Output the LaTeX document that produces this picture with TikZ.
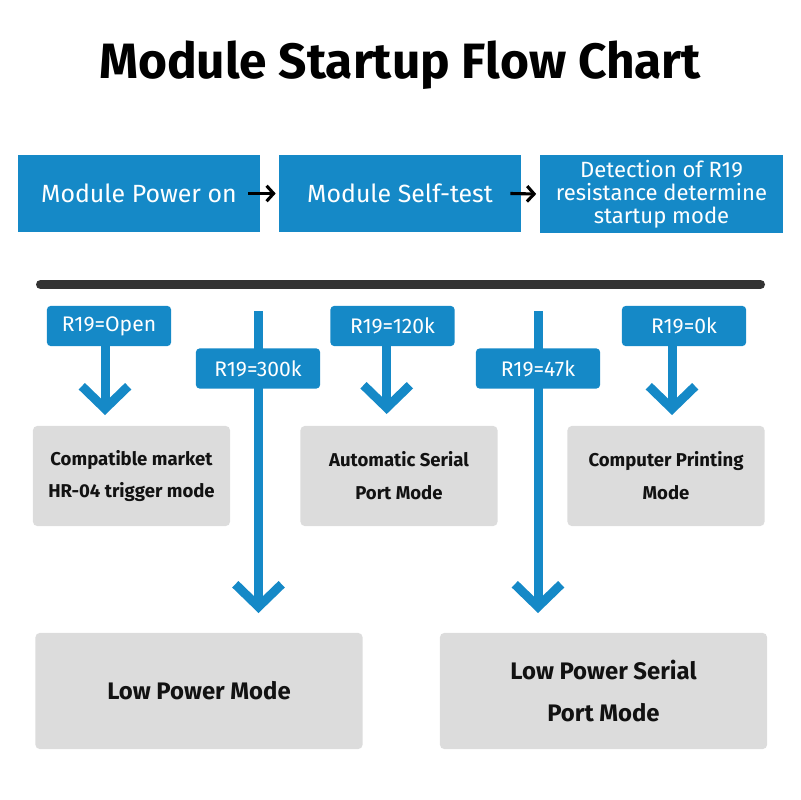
\documentclass[tikz,border=0pt]{standalone}
\usepackage{fontspec}
\setmainfont{Fira Sans}
\usetikzlibrary{arrows.meta, positioning}
\definecolor{flowblue}{HTML}{1589C7}
\definecolor{modegray}{HTML}{DCDCDC}
\definecolor{bargray}{HTML}{333333}
\tikzset{
  stepbox/.style={rectangle, fill=flowblue, text=white, minimum width=6.05cm, minimum height=1.925cm, align=center, inner sep=0, font=\fontsize{17.7}{21}\selectfont},
  rlabel/.style={rectangle, rounded corners=2.5pt, fill=flowblue, text=white, minimum width=3.1cm, minimum height=1cm, inner sep=0, font=\fontsize{15}{18}\selectfont},
  modebox/.style={rectangle, rounded corners=3pt, fill=modegray, text=black!93, minimum width=4.925cm, minimum height=2.5cm, align=center, inner sep=0, font=\bfseries\fontsize{13.2}{23.4}\selectfont},
  bigmode/.style={modebox, minimum width=8.175cm, minimum height=2.9cm, font=\bfseries\fontsize{17}{30}\selectfont},
  darrow/.style={-{Straight Barb[length=16pt,width=33pt]}, line width=6.4pt, draw=flowblue},
  harrow/.style={-{Straight Barb[length=5pt,width=11pt]}, line width=2.2pt, draw=black}
}

\begin{document}
\begin{tikzpicture}[x=0.025cm, y=-0.025cm]
\useasboundingbox (0,0) rectangle (800,800);

% Title
\node[anchor=base, font=\bfseries\fontsize{35.3}{40}\selectfont] (title) at (400,79) {Module Startup Flow Chart};

% Startup steps
\node[stepbox] (pwr) at (139,193.5) {Module Power on};
\node[stepbox] (test) at (400,193.5) {Module Self-test};
\node[stepbox, font=\fontsize{15.7}{16.2}\selectfont] (detect) at (661.5,194) {Detection of R19\\resistance determine\\startup mode};

\draw[harrow] ([xshift=-0.3cm]pwr.east) -- ([xshift=-0.075cm]test.west);
\draw[harrow] ([xshift=-0.275cm]test.east) -- ([xshift=-0.1cm]detect.west);

% Separator bar
\draw[line width=6.4pt, bargray, line cap=round] (40.5,284.5) -- (760.5,284.5);

% Long arrows (behind their labels)
\coordinate (top300) at (258.5,311);
\coordinate (tip300) at (258.5,613);
\coordinate (top47) at (538,311);
\coordinate (tip47) at (538,613);
\draw[darrow] (top300) -- (tip300);
\draw[darrow] (top47) -- (tip47);

% R19 values
\node[rlabel] (lopen) at (109,326) {R19=Open};
\node[rlabel] (l300) at (258,368.5) {R19=300k};
\node[rlabel] (l120) at (392.5,326) {R19=120k};
\node[rlabel] (l47) at (538,368.5) {R19=47k};
\node[rlabel] (l0) at (684,326) {R19=0k};

% Short arrows
\coordinate (tipopen) at (105,415);
\coordinate (tip120) at (386.7,414);
\coordinate (tip0) at (672,415);
\draw[darrow] (tipopen |- lopen.south) -- (tipopen);
\draw[darrow] (tip120 |- l120.south) -- (tip120);
\draw[darrow] (tip0 |- l0.south) -- (tip0);

% Modes
\node[modebox] (compat) at (131.5,476) {Compatible market\\HR-04 trigger mode};
\node[modebox] (auto) at (399,476) {Automatic Serial\\Port Mode};
\node[modebox] (comp) at (666,476) {Computer Printing\\Mode};
\node[bigmode] (low) at (199,691) {Low Power Mode};
\node[bigmode] (lowser) at (603.5,691) {Low Power Serial\\Port Mode};

\end{tikzpicture}
\end{document}
